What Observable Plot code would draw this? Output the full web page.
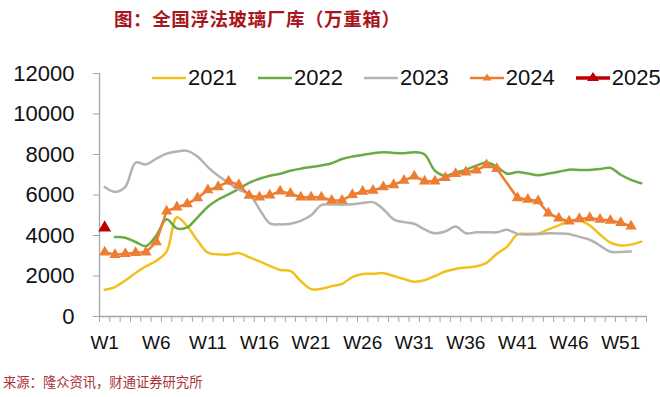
<!DOCTYPE html>
<html><head><meta charset="utf-8">
<script src="https://cdn.jsdelivr.net/npm/d3@7"></script>
<script src="https://cdn.jsdelivr.net/npm/@observablehq/plot@0.6"></script>
<style>
body{margin:0;width:660px;height:397px;position:relative;background:#fff;overflow:hidden;font-family:"Liberation Sans",Arial,sans-serif}
#title{position:absolute;left:114px;top:5px;font-family:"Noto Sans CJK SC",sans-serif;font-weight:700;font-size:18.5px;letter-spacing:0.6px;color:#a8161e;white-space:nowrap;line-height:26px}
#chart{position:absolute;left:0;top:40px}
#legend{position:absolute;left:152px;top:66px;display:flex;gap:21px;font-size:22px;color:#111;line-height:24px}
#legend .item{display:flex;align-items:center}
#legend svg{margin-right:2px}
#source{position:absolute;left:3px;top:373px;font-family:"Noto Sans CJK SC",sans-serif;font-size:13.3px;color:#a8323a;white-space:nowrap;line-height:18px}
svg g[aria-label="y-axis tick"], svg g[aria-label="x-axis tick"]{stroke:#a6a6a6}
</style></head><body>
<div id="title">图：全国浮法玻璃厂库（万重箱）</div>
<div id="chart"></div>
<div id="legend"></div>
<div id="source">来源：隆众资讯，财通证券研究所</div>
<script>
const years = ["2021", "2022", "2023", "2024", "2025"];
const colors = ["#f2c01e", "#6aab46", "#b3b3b3", "#ed7d31", "#c00000"];
const xTickLabels = ["W1","W6","W11","W16","W21","W26","W31","W36","W41","W46","W51"];
const yTicks = [0, 2000, 4000, 6000, 8000, 10000, 12000];
const weekCount = 53;

const v2021 = [1320,1450,1780,2150,2480,2750,3200,4900,4450,3750,
  3150,3070,3060,3130,2930,2720,2500,2300,2250,1750,
  1350,1370,1500,1610,1950,2100,2110,2140,2000,1850,
  1720,1790,2000,2220,2350,2420,2480,2650,3100,3450,
  4050,4080,4100,4300,4500,4700,4740,4500,4050,3650,
  3510,3550,3700];
const v2022 = [null,3920,3890,3680,3480,4000,4800,4350,4400,4900,
  5420,5780,6030,6300,6600,6800,6950,7050,7200,7300,
  7380,7460,7570,7780,7900,7980,8060,8110,8080,8060,
  8110,8000,7200,6950,7100,7250,7450,7600,7400,7050,
  7130,7060,6980,7060,7150,7250,7240,7240,7280,7340,
  7000,6750,6580];
const v2023 = [6390,6150,6400,7600,7510,7790,8040,8150,8180,7900,
  7380,6950,6600,6250,6050,5300,4600,4550,4580,4720,
  5000,5500,5530,5520,5540,5600,5650,5300,4800,4660,
  4580,4300,4110,4200,4440,4110,4160,4160,4160,4280,
  4080,4050,4070,4110,4100,4070,3930,3790,3500,3200,
  3190,3210];
const v2024 = [3175,3050,3100,3150,3170,3680,5200,5400,5560,5850,
  6250,6400,6680,6500,5975,5890,5990,6180,6070,5890,
  5890,5890,5730,5730,6010,6170,6220,6390,6500,6720,
  6930,6680,6680,6850,7050,7130,7220,7480,7300,null,
  5850,5780,5700,5100,4850,4700,4820,4870,4790,4740,
  4630,4460];
const v2025 = [4380];

const toRows = arr => arr.map((v, i) => ({week: i + 1, value: v})).filter(d => d.value != null);
const r2021 = toRows(v2021), r2022 = toRows(v2022), r2023 = toRows(v2023), r2024 = toRows(v2024), r2025 = toRows(v2025);

const labelMap = new Map(xTickLabels.map(l => [+l.slice(1), l]));
const boundaries = d3.range(0, weekCount + 1).map(i => i + 0.5);
const axisGray = "#a6a6a6";

const chart = Plot.plot({
  width: 660, height: 320,
  marginTop: 33, marginBottom: 44, marginLeft: 99, marginRight: 14,
  x: {domain: [0.5, weekCount + 0.5], label: null},
  y: {domain: [0, 12000], label: null},
  style: {fontFamily: "'Liberation Sans', Arial, sans-serif", background: "transparent", color: "#111"},
  marks: [
    Plot.ruleX([0.5], {stroke: axisGray, strokeWidth: 1.3}),
    Plot.ruleY([0], {stroke: axisGray, strokeWidth: 1.3}),
    Plot.axisX(boundaries, {tickSize: 6, tickFormat: () => "", label: null}),
    Plot.axisX([...labelMap.keys()], {tickSize: 0, tickPadding: 19, fontSize: 19, tickFormat: d => labelMap.get(d), label: null}),
    Plot.axisY(yTicks, {tickSize: 6, tickPadding: 19, fontSize: 22, tickFormat: d => String(d), label: null}),
    Plot.line(r2021, {x: "week", y: "value", stroke: colors[0], strokeWidth: 2.5, curve: "catmull-rom"}),
    Plot.line(r2022, {x: "week", y: "value", stroke: colors[1], strokeWidth: 2.5, curve: "catmull-rom"}),
    Plot.line(r2023, {x: "week", y: "value", stroke: colors[2], strokeWidth: 2.5, curve: "catmull-rom"}),
    Plot.line(r2024, {x: "week", y: "value", stroke: colors[3], strokeWidth: 2.5}),
    Plot.dot(r2024, {x: "week", y: "value", symbol: "triangle", r: 4.2, fill: colors[3], stroke: "none"}),
    Plot.dot(r2025, {x: "week", y: "value", symbol: "triangle", r: 4.8, fill: colors[4], stroke: "none"})
  ]
});
document.getElementById("chart").appendChild(chart);

// legend
const legend = document.getElementById("legend");
years.forEach((y, i) => {
  const item = document.createElement("div");
  item.className = "item";
  const marker = i >= 3;
  const sw = i === 4 ? 3.5 : 2.5;
  const tri = i === 4 ? "M17,4 L23,13 L11,13 Z" : "M17,5.5 L21.5,12.5 L12.5,12.5 Z";
  item.innerHTML = `<svg width="34" height="20"><line x1="0" x2="34" y1="10" y2="10" stroke="${colors[i]}" stroke-width="${sw}"/>${marker ? `<path d="${tri}" fill="${colors[i]}"/>` : ""}</svg><span>${y}</span>`;
  legend.appendChild(item);
});
</script>
</body></html>
